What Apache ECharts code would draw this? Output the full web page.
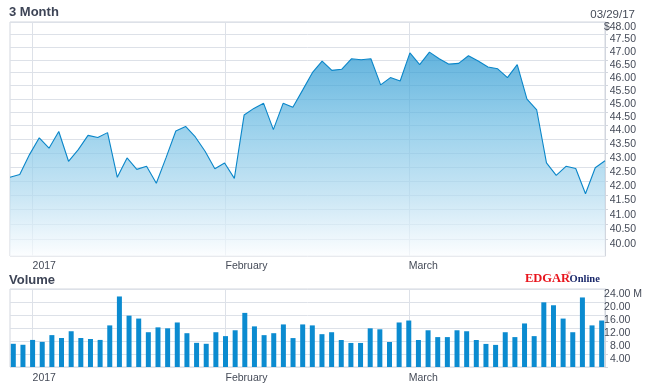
<!DOCTYPE html>
<html><head><meta charset="utf-8">
<script src="https://cdn.jsdelivr.net/npm/echarts@6/dist/echarts.min.js"></script>
<style>html,body{margin:0;padding:0;background:#fff}#c{width:645px;height:384px}</style>
</head><body><div id="c"></div>
<script>
// ---- data ----
const dates = ['12/29/16','12/30/16',
 '01/03/17','01/04/17','01/05/17','01/06/17','01/09/17','01/10/17','01/11/17','01/12/17','01/13/17',
 '01/17/17','01/18/17','01/19/17','01/20/17','01/23/17','01/24/17','01/25/17','01/26/17','01/27/17','01/30/17','01/31/17',
 '02/01/17','02/02/17','02/03/17','02/06/17','02/07/17','02/08/17','02/09/17','02/10/17','02/13/17','02/14/17',
 '02/15/17','02/16/17','02/17/17','02/21/17','02/22/17','02/23/17','02/24/17','02/27/17','02/28/17',
 '03/01/17','03/02/17','03/03/17','03/06/17','03/07/17','03/08/17','03/09/17','03/10/17','03/13/17','03/14/17',
 '03/15/17','03/16/17','03/17/17','03/20/17','03/21/17','03/22/17','03/23/17','03/24/17','03/27/17','03/28/17','03/29/17'];
const prices = [42.13, 42.23, 42.94, 43.55, 43.17, 43.78, 42.70, 43.12, 43.64, 43.56,
 43.74, 42.13, 42.82, 42.41, 42.52, 41.92, 42.83, 43.80, 43.97, 43.58,
 43.06, 42.43, 42.64, 42.09, 44.39, 44.64, 44.83, 43.85, 44.83, 44.68,
 45.33, 46.00, 46.45, 46.09, 46.13, 46.54, 46.50, 46.54, 45.53, 45.81,
 45.68, 46.77, 46.31, 46.80, 46.54, 46.33, 46.36, 46.66, 46.45, 46.22,
 46.15, 45.81, 46.31, 44.99, 44.58, 42.64, 42.20, 42.52, 42.44, 41.55,
 42.47, 42.72];
const volumes = [7.14, 6.84, 8.33, 7.73, 9.81, 8.92, 11.0, 8.92, 8.62, 8.33,
 12.8, 21.7, 15.8, 14.9, 10.7, 12.2, 11.9, 13.7, 10.4, 7.43,
 7.14, 10.7, 9.5, 11.3, 16.65, 12.5, 9.8, 10.4, 13.1, 8.9,
 13.1, 12.8, 10.1, 10.7, 8.3, 7.4, 7.4, 11.9, 11.6, 7.7,
 13.7, 14.3, 8.3, 11.3, 9.2, 9.2, 11.3, 11.0, 8.3, 7.1,
 6.8, 10.7, 9.2, 13.4, 9.5, 19.9, 19.0, 14.9, 10.7, 21.4,
 12.8, 14.3];
const priceTicks = [40, 40.5, 41, 41.5, 42, 42.5, 43, 43.5, 44, 44.5, 45, 45.5, 46, 46.5, 47, 47.5, 48];
const volumeTicks = [4, 8, 12, 16, 20, 24];
const monthTickDates = ['01/03/17', '02/01/17', '03/01/17'];
const monthTickLabels = ['2017', 'February', 'March'];

// ---- styling ----
const FONT = '"Liberation Sans", Arial, sans-serif';
const GRID_C = '#dde1e8';
const BORDER_C = '#d2d6de';
const TXT_C = '#454b58';
const monthIdx = monthTickDates.map(d => dates.indexOf(d));
const labelOf = {};
monthIdx.forEach((ix, k) => { labelOf[ix] = monthTickLabels[k]; });
const XMIN = -0.342, XMAX = dates.length - 1 + 0.342;
const PMIN = 39.434, PMAX = priceTicks[priceTicks.length - 1];
const VMAX = volumeTicks[volumeTicks.length - 1];

function monthAxis(gridIndex, margin) {
  return {
    type: 'value', gridIndex, position: 'bottom', min: XMIN, max: XMAX,
    axisLine: { show: false, onZero: false },
    axisTick: { show: false, customValues: monthIdx },
    axisLabel: {
      customValues: monthIdx, align: 'left', margin,
      fontFamily: FONT, fontSize: 10.5, color: TXT_C,
      formatter: v => labelOf[Math.round(v)] || ''
    },
    splitLine: { show: true, lineStyle: { color: GRID_C, width: 1 } }
  };
}

const chart = echarts.init(document.getElementById('c'), null, { renderer: 'canvas' });
chart.setOption({
  animation: false,
  backgroundColor: '#fff',
  grid: [
    { left: 10, top: 22, width: 595, height: 234, show: true, borderColor: BORDER_C, borderWidth: 1, containLabel: false },
    { left: 10, top: 289, width: 595, height: 81, show: true, borderColor: BORDER_C, borderWidth: 1, containLabel: false }
  ],
  xAxis: [
    { type: 'category', gridIndex: 0, position: 'bottom', data: dates, boundaryGap: false, show: false,
      axisLine: { onZero: false }, splitLine: { show: false } },
    monthAxis(0, 5),
    monthAxis(1, 6)
  ],
  yAxis: [
    {
      type: 'log', logBase: 10, gridIndex: 0, position: 'right', min: PMIN, max: PMAX,
      axisLine: { show: true, onZero: false, lineStyle: { color: BORDER_C } },
      axisTick: { show: true, length: 3, customValues: priceTicks, lineStyle: { color: BORDER_C } },
      axisLabel: {
        customValues: priceTicks, align: 'right', verticalAlign: 'top', lineHeight: 10, margin: 31,
        fontFamily: FONT, fontSize: 10.5, color: TXT_C,
        formatter: v => (Math.abs(v - PMAX) < 1e-6 ? '$' : '') + Number(v).toFixed(2)
      },
      splitLine: { show: true, lineStyle: { color: GRID_C } }
    },
    {
      type: 'value', gridIndex: 1, position: 'right', min: 0, max: VMAX, interval: 4,
      axisLine: { show: true, onZero: false, lineStyle: { color: BORDER_C } },
      axisTick: { show: true, length: 3, lineStyle: { color: BORDER_C } },
      axisLabel: {
        customValues: volumeTicks, align: 'right', verticalAlign: 'top', lineHeight: 10, margin: 37,
        fontFamily: FONT, fontSize: 10.5, color: TXT_C,
        formatter: v => v === VMAX ? v.toFixed(2) + ' M' : (v === 0 ? '' : v.toFixed(2) + '{h| M}'),
        rich: { h: { color: 'rgba(0,0,0,0)', fontFamily: FONT, fontSize: 10.5, lineHeight: 10 } }
      },
      splitLine: { show: true, lineStyle: { color: GRID_C } }
    }
  ],
  series: [
    {
      type: 'line', xAxisIndex: 0, yAxisIndex: 0, data: prices, symbol: 'none', silent: true,
      lineStyle: { color: '#0a86c9', width: 1.1 },
      areaStyle: {
        origin: 'start',
        color: new echarts.graphic.LinearGradient(0, 0, 0, 1, [
          { offset: 0, color: '#1f93cf' }, { offset: 0.35, color: '#6cbce3' },
          { offset: 0.7, color: '#b2dbf0' }, { offset: 1, color: '#fbfdff' }
        ])
      }
    },
    {
      type: 'bar', xAxisIndex: 2, yAxisIndex: 1, data: volumes.map((v, i) => [i, v]),
      barWidth: 5, silent: true, itemStyle: { color: '#0b8bd0' }
    }
  ],
  graphic: [
    { type: 'text', x: 9, y: 12, style: { text: '3 Month', font: 'bold 13px "Liberation Sans", Arial, sans-serif', fill: '#3d4456', align: 'left', verticalAlign: 'middle' } },
    { type: 'text', x: 635, y: 14.5, style: { text: dates[dates.length - 1], font: '11.5px ' + FONT, fill: TXT_C, align: 'right', verticalAlign: 'middle' } },
    { type: 'text', x: 9, y: 280, style: { text: 'Volume', font: 'bold 13px "Liberation Sans", Arial, sans-serif', fill: '#3d4456', align: 'left', verticalAlign: 'middle' } },
    { type: 'text', x: 525, y: 278.5, style: { text: 'EDGAR', font: 'bold 12.5px "Liberation Serif", "Times New Roman", serif', fill: '#e8141c', align: 'left', verticalAlign: 'middle' } },
    { type: 'text', x: 566.5, y: 273.5, style: { text: '®', font: '6px "Liberation Serif", serif', fill: '#e8141c', align: 'left', verticalAlign: 'middle' } },
    { type: 'text', x: 569.5, y: 279.5, style: { text: 'Online', font: 'bold 10.5px "Liberation Serif", "Times New Roman", serif', fill: '#1c2a6c', align: 'left', verticalAlign: 'middle' } }
  ]
});
</script>
</body></html>
